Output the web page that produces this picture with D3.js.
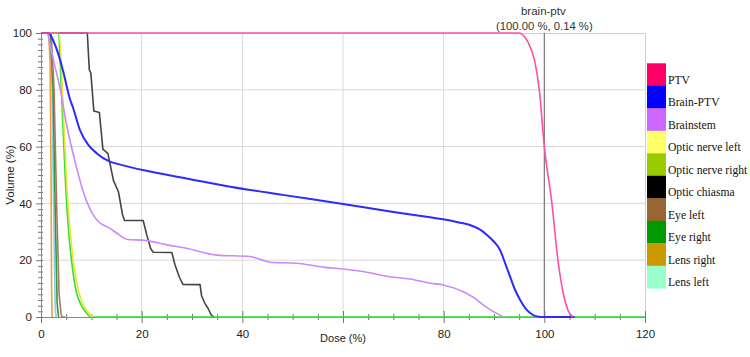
<!DOCTYPE html>
<html>
<head>
<meta charset="utf-8">
<script src="https://cdn.jsdelivr.net/npm/d3@7"></script>
<style>
  html, body { margin: 0; padding: 0; background: #fff; }
  svg { display: block; }
</style>
</head>
<body>
<svg id="chart" width="750" height="357"></svg>
<script>
// ---------------- DATA ----------------
const seriesNames = ["PTV", "Brain-PTV", "Brainstem", "Optic nerve left", "Optic nerve right",
  "Optic chiasma", "Eye left", "Eye right", "Lens right", "Lens left"];
const legendColors = ["#ff0066", "#0000ff", "#cc66ff", "#ffff66", "#99cc00",
  "#000000", "#996633", "#009900", "#cc9900", "#99ffcc"];
const lineColors = ["#ff4fa3", "#2b2bff", "#cc88ff", "#e8e830", "#33dd33",
  "#444444", "#aa7766", "#339933", "#f0a040", "#88ccee"];

// [dose %, volume %]
const ptv = [[0,100],[95,100],[95.8,99.2],[96.7,97],[98.1,90],[99,80],[100,60],[101.5,40],[102.7,20],[103.8,8],[104.8,2],[105.7,0]];
const brainPtv = [[0,100],[1.5,100],[2.5,97],[3.8,90.5],[4.4,86.5],[5.8,76.5],[6.4,73.5],[7.7,66],[9.4,60.6],[11.1,57.6],[13.7,54.7],[15,54],[21.7,51.2],[28.9,48.8],[37.6,45.9],[48,43],[60,39.8],[70,37],[77.3,35.1],[79.9,34.4],[83,33.3],[85.2,32.4],[87,31],[88.6,28.9],[90,26.5],[91.2,23.6],[92.2,19],[93.2,14.2],[94.2,9.5],[95.2,6],[96.5,2.5],[97.8,0.7],[99,0.1],[99.6,0],[106,0]];
const brainstem = [[0,100],[1.2,100],[1.8,96],[2.4,91],[3.8,80.5],[5.1,67.6],[7.1,52.4],[8.4,44.1],[10.4,35.9],[11.4,33.6],[13.7,31.2],[15.5,29],[17,27.4],[21,26.9],[25,25.4],[28.9,24.2],[34.9,21.8],[41.5,21.3],[45.5,19.3],[50.8,18.9],[56.8,17.4],[60.1,16.9],[64,16],[69.3,14.2],[73.3,13.4],[77.3,11.9],[79.9,11.3],[83.9,8.9],[86,6.8],[87.9,4.2],[89.9,1.9],[91.9,0]];
const opticNerveLeft = [[0,100],[3.6,100],[4.3,78],[5.1,47],[5.7,32],[6.4,20],[7.1,12],[7.9,6.5],[8.8,3],[9.5,1.5],[10.2,0]];
const opticNerveRight = [[0,100],[3.4,100],[4.1,78],[4.9,46],[5.5,30],[6.2,18],[7,9],[7.9,4.5],[9,1.5],[9.9,0],[120,0]];
const opticChiasma = [[0,100],[9.2,100],[9.6,87],[9.9,86],[10.5,72.5],[11.6,72],[12.3,59],[12.7,58.5],[13.3,57.5],[14.4,48],[15.4,44],[16.2,36],[16.6,34],[20.3,34],[21,29],[21.8,24],[22.3,22.8],[26,22.7],[26.6,18.5],[27.5,14],[28.2,11.5],[31.6,11.4],[31.9,7.5],[32.5,5],[33.2,3],[33.8,0.8],[34.3,0]];
const eyeLeft = [[0,100],[2.0,100],[2.6,80],[3.1,40],[3.6,8],[4.0,1],[4.2,0],[4.8,0]];
const eyeRight = [[0,100],[1.9,100],[2.4,80],[2.8,40],[3.2,5],[3.5,0]];
const lensRight = [[0,100],[1.5,100],[1.8,90],[2.0,50],[2.1,10],[2.2,0]];
const lensLeft = [[0,100],[1.8,100],[2.2,80],[2.5,40],[2.8,5],[3.0,0]];
const seriesValues = [ptv, brainPtv, brainstem, opticNerveLeft, opticNerveRight,
  opticChiasma, eyeLeft, eyeRight, lensRight, lensLeft];

const xTicks = [0, 20, 40, 60, 80, 100, 120];
const xTickLabels = ["0", "20", "40", "", "80", "100", "120"]; // 60 is covered by the axis title
const yTicks = [0, 20, 40, 60, 80, 100];
const markerDose = 100;
const markerTitle = "brain-ptv";
const markerLabel = "(100.00 %, 0.14 %)";
const xTitle = "Dose (%)";
const yTitle = "Volume (%)";

// ---------------- CHART ----------------
const svg = d3.select("#chart");
const L = 41, R = 645, T = 33, B = 317;
const x = d3.scaleLinear().domain([0, 120]).range([L, R]);
const y = d3.scaleLinear().domain([0, 100]).range([B, T]);

svg.append("rect").attr("width", 750).attr("height", 357).attr("fill", "#fff");

// grid
const grid = svg.append("g");
grid.selectAll(".vg").data(xTicks.filter(d => d > 0 && d < 120 && d !== markerDose)).join("line")
  .attr("x1", d => x(d)).attr("x2", d => x(d)).attr("y1", T).attr("y2", B)
  .attr("stroke", "#d9d9d9").attr("stroke-width", 1);
grid.selectAll(".hg").data(yTicks.filter(d => d > 0 && d < 100)).join("line")
  .attr("x1", L).attr("x2", R).attr("y1", d => y(d)).attr("y2", d => y(d))
  .attr("stroke", "#d9d9d9").attr("stroke-width", 1);
// top & right border
svg.append("path").attr("d", `M${L},${T + 0.5}H${R + 0.5}V${B}`)
  .attr("fill", "none").attr("stroke", "#cfcfcf");

// marker line
svg.append("line").attr("x1", x(markerDose)).attr("x2", x(markerDose))
  .attr("y1", T).attr("y2", B).attr("stroke", "#777").attr("stroke-width", 1.2);

// minor ticks
const xMinor = d3.range(0, 121, 5).filter(d => d % 20 !== 0);
const yMinor = d3.range(0, 101, 2).filter(d => d % 20 !== 0);
svg.append("g").attr("transform", `translate(0,${B})`)
  .call(d3.axisBottom(x).tickValues(xMinor).tickSize(3).tickFormat(""))
  .call(g => g.select(".domain").remove())
  .call(g => g.selectAll("line").attr("y1", -3).attr("stroke", "#777"));
svg.append("g").attr("transform", `translate(${L},0)`)
  .call(d3.axisLeft(y).tickValues(yMinor).tickSize(3).tickFormat(""))
  .call(g => g.select(".domain").remove())
  .call(g => g.selectAll("line").attr("x1", 2).attr("stroke", "#777"));

// major axes
const xAxis = svg.append("g").attr("transform", `translate(0,${B})`)
  .call(d3.axisBottom(x).tickValues(xTicks).tickSize(6).tickPadding(7).tickSizeOuter(0)
    .tickFormat((d, i) => xTickLabels[i]));
xAxis.selectAll("line").attr("y1", -6).attr("stroke", "#777");
xAxis.select(".domain").attr("stroke", "#888");
xAxis.selectAll("text").attr("font-family", "Liberation Sans, Arial, sans-serif")
  .attr("font-size", 11.5).attr("fill", "#222");

const yAxis = svg.append("g").attr("transform", `translate(${L},0)`)
  .call(d3.axisLeft(y).tickValues(yTicks).tickSize(5).tickPadding(4).tickSizeOuter(0));
yAxis.selectAll("line").attr("x1", 2).attr("stroke", "#777");
yAxis.select(".domain").attr("stroke", "#888");
yAxis.selectAll("text").attr("font-family", "Liberation Sans, Arial, sans-serif")
  .attr("font-size", 11.5).attr("fill", "#222");

// series lines (drawn in reverse legend order so PTV is on top)
const line = d3.line().x(d => x(d[0])).y(d => y(d[1])).curve(d3.curveMonotoneX);
const linearLine = d3.line().x(d => x(d[0])).y(d => y(d[1]));
const order = d3.range(seriesNames.length).reverse();
const linesG = svg.append("g");
order.forEach(i => {
  const smooth = i <= 4;
  linesG.append("path")
    .attr("d", (smooth ? line : linearLine)(seriesValues[i]))
    .attr("fill", "none")
    .attr("stroke", lineColors[i])
    .attr("stroke-width", i === 1 ? 2 : 1.6)
    .attr("stroke-linejoin", "round");
});

// marker annotation
svg.append("text").attr("x", x(markerDose) - 1).attr("y", 14.5).attr("text-anchor", "middle")
  .attr("font-family", "Liberation Sans, Arial, sans-serif").attr("font-size", 11.5)
  .attr("fill", "#333").text(markerTitle);
svg.append("text").attr("x", x(markerDose)).attr("y", 29.5).attr("text-anchor", "middle")
  .attr("font-family", "Liberation Sans, Arial, sans-serif").attr("font-size", 11.3)
  .attr("fill", "#333").text(markerLabel);

// axis titles
svg.append("text").attr("x", (L + R) / 2).attr("y", 342).attr("text-anchor", "middle")
  .attr("font-family", "Liberation Sans, Arial, sans-serif").attr("font-size", 11)
  .attr("fill", "#222").text(xTitle);
svg.append("text").attr("transform", `translate(14,${(T + B) / 2}) rotate(-90)`)
  .attr("text-anchor", "middle")
  .attr("font-family", "Liberation Sans, Arial, sans-serif").attr("font-size", 11.5)
  .attr("fill", "#222").text(yTitle);

// legend
const lg = svg.append("g").attr("transform", "translate(647,63.3)");
const sh = 22.5;
lg.selectAll("rect").data(seriesNames).join("rect")
  .attr("x", 0).attr("y", (d, i) => i * sh).attr("width", 19).attr("height", sh + 0.3)
  .attr("fill", (d, i) => legendColors[i]);
lg.selectAll("text").data(seriesNames).join("text")
  .attr("x", 21).attr("y", (d, i) => i * sh + 20.5)
  .attr("font-family", "Liberation Serif, Times New Roman, serif").attr("font-size", 11.6)
  .attr("fill", "#111").text(d => d);
</script>
</body>
</html>
